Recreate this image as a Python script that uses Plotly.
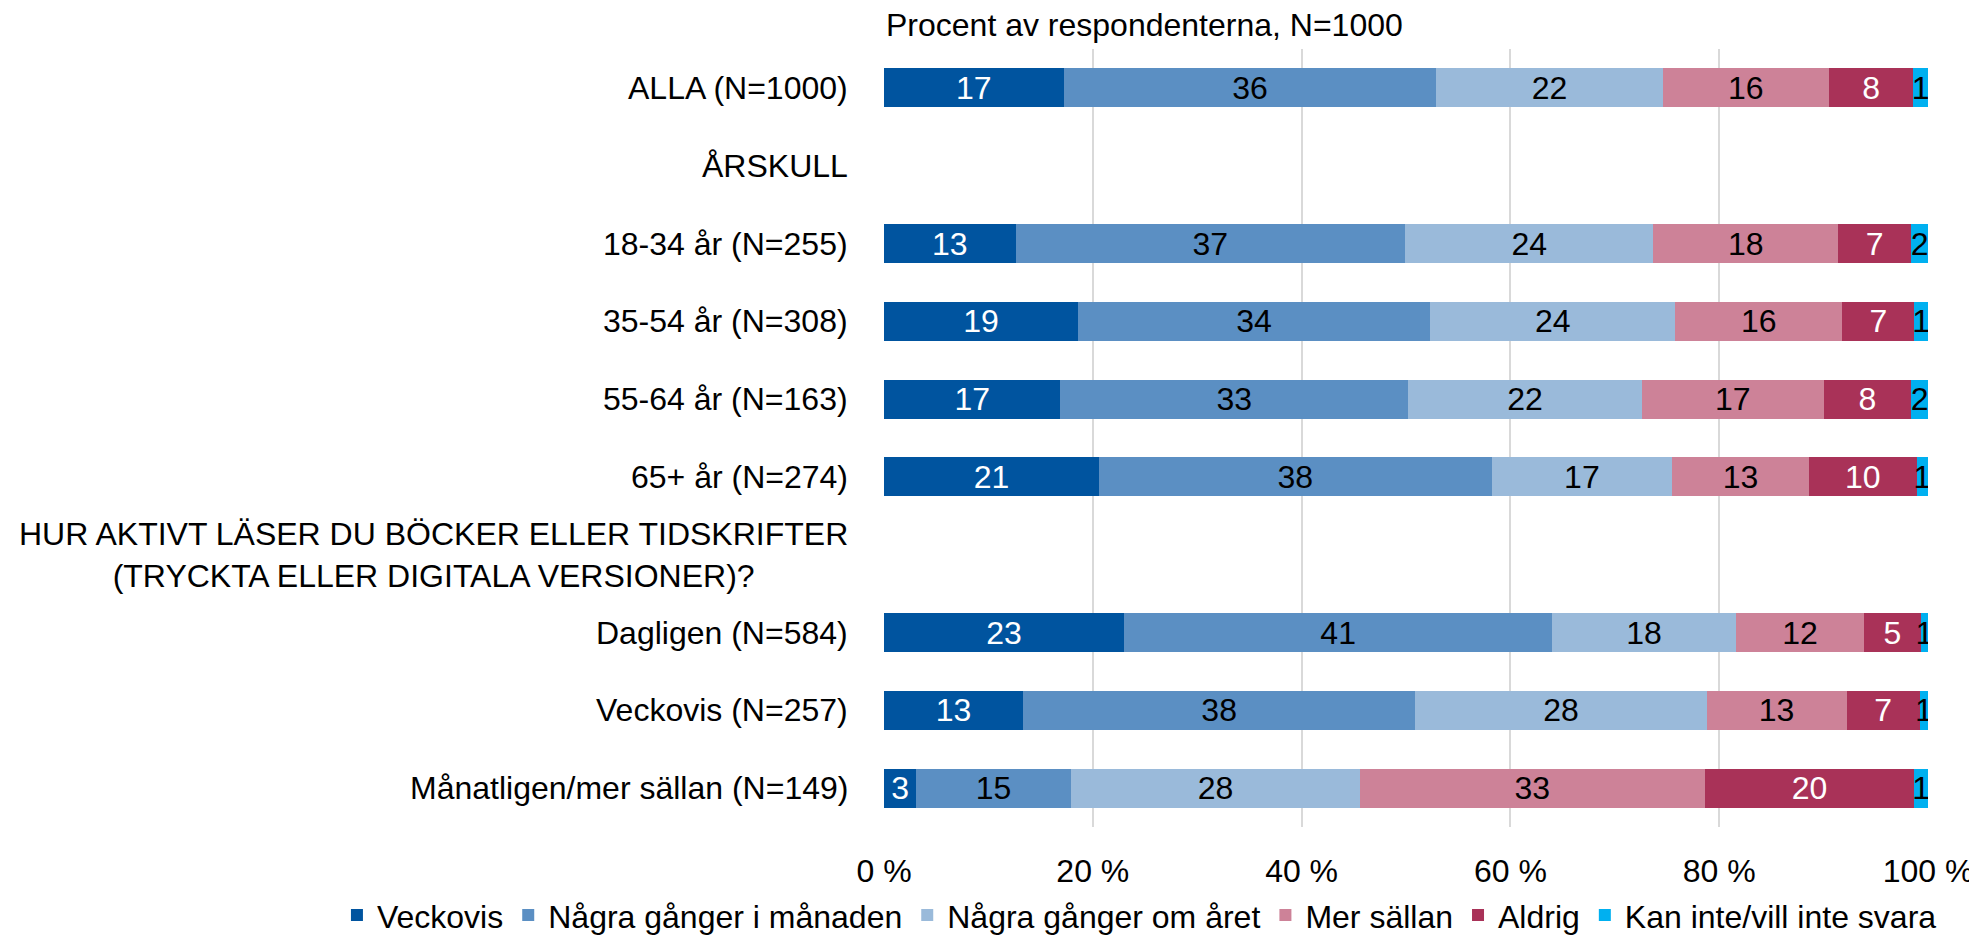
import plotly.graph_objects as go

# Data (percent of respondents)
categories = [
    "ALLA (N=1000)",
    "ÅRSKULL",
    "18-34 år (N=255)",
    "35-54 år (N=308)",
    "55-64 år (N=163)",
    "65+ år (N=274)",
    "HUR AKTIVT LÄSER DU BÖCKER ELLER TIDSKRIFTER<br>(TRYCKTA ELLER DIGITALA VERSIONER)?",
    "Dagligen (N=584)",
    "Veckovis (N=257)",
    "Månatligen/mer sällan (N=149)",
]

veckovis = [17.2, None, 12.6, 18.6, 16.9, 20.6, None, 23.0, 13.3, 3.1]
manaden = [35.7, None, 37.3, 33.7, 33.3, 37.6, None, 41.0, 37.6, 14.8]
aret = [21.7, None, 23.8, 23.5, 22.4, 17.3, None, 17.6, 27.9, 27.7]
mer_sallan = [15.9, None, 17.7, 16.0, 17.4, 13.1, None, 12.3, 13.4, 33.0]
aldrig = [8.1, None, 7.0, 6.9, 8.4, 10.3, None, 5.4, 7.0, 20.1]
kan_inte = [1.4, None, 1.6, 1.3, 1.6, 1.1, None, 0.7, 0.8, 1.3]

x_ticks = [0, 20, 40, 60, 80, 100]
x_ticklabels = ["0 %", "20 %", "40 %", "60 %", "80 %", "100 %"]

series = [
    ("Veckovis", veckovis, "#00549F", "white"),
    ("Några gånger i månaden", manaden, "#5B8FC3", "black"),
    ("Några gånger om året", aret, "#9ABADA", "black"),
    ("Mer sällan", mer_sallan, "#CD8298", "black"),
    ("Aldrig", aldrig, "#A93258", "white"),
    ("Kan inte/vill inte svara", kan_inte, "#00B0F0", "black"),
]

FONT = "Liberation Sans, Arial, sans-serif"
FS = 32

fig = go.Figure()

for name, vals, color, tcolor in series:
    fig.add_trace(go.Bar(
        y=categories,
        x=vals,
        name=name,
        orientation="h",
        marker=dict(color=color, line=dict(width=0)),
        texttemplate="%{x:.0f}",
        textposition="inside",
        insidetextanchor="middle",
        textangle=0,
        constraintext="none",
        textfont=dict(family=FONT, size=FS, color=tcolor),
    ))

# category labels on the left (right-anchored, lines centred)
for cat in categories:
    fig.add_annotation(
        x=0, xref="paper", xanchor="right", xshift=-34,
        y=cat, yref="y", yanchor="middle",
        text=cat, showarrow=False, align="center",
        font=dict(family=FONT, size=FS, color="black"),
    )

fig.add_annotation(
    x=0.0, xref="paper", xanchor="left",
    y=1.0, yref="paper", yanchor="bottom", yshift=4,
    text="Procent av respondenterna, N=1000", showarrow=False,
    font=dict(family=FONT, size=FS, color="black"),
)

fig.update_layout(
    barmode="stack",
    bargap=0.5,
    width=1977,
    height=942,
    margin=dict(l=876, r=57, t=41, b=123, autoexpand=False),
    plot_bgcolor="white",
    paper_bgcolor="white",
    font=dict(family=FONT, size=FS, color="black"),
    uniformtext=dict(minsize=FS, mode="show"),
    showlegend=True,
    legend=dict(
        orientation="h",
        x=-0.524, xanchor="left",
        y=-0.1135, yanchor="middle",
        font=dict(family=FONT, size=FS),
        traceorder="normal",
        itemwidth=30,
        bgcolor="rgba(0,0,0,0)",
    ),
    xaxis=dict(
        range=[0, 100],
        tickmode="array",
        tickvals=x_ticks,
        ticktext=x_ticklabels,
        showgrid=True,
        gridcolor="#D9D9D9",
        gridwidth=2,
        zeroline=False,
        showline=False,
        ticks="",
        ticklabelstandoff=22,
        tickfont=dict(family=FONT, size=FS),
    ),
    yaxis=dict(
        categoryorder="array",
        categoryarray=categories,
        autorange="reversed",
        showticklabels=False,
        showgrid=False,
        zeroline=False,
        showline=False,
        ticks="",
    ),
)

fig.write_html("out.html")
